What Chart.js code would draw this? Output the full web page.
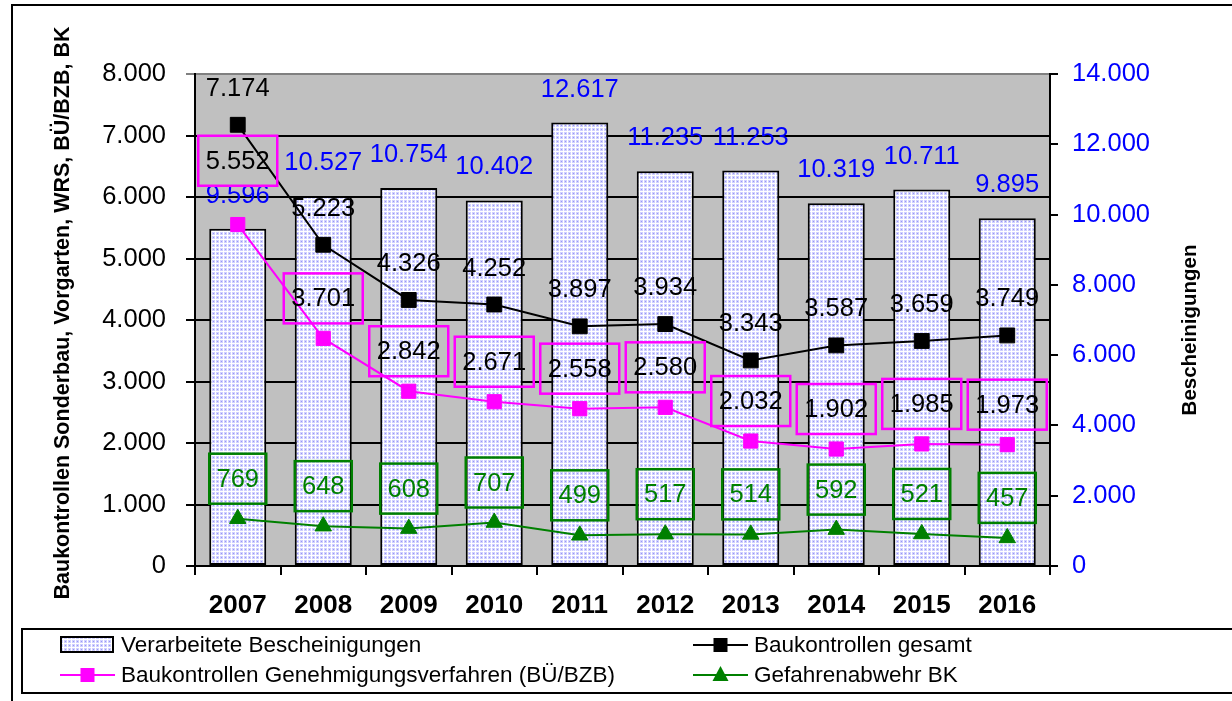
<!DOCTYPE html>
<html>
<head>
<meta charset="utf-8">
<title>Baukontrollen und Bescheinigungen 2007-2016</title>
<script src="https://cdn.jsdelivr.net/npm/chart.js@4/dist/chart.umd.min.js"></script>
<style>
  html, body { margin: 0; padding: 0; background: #fff; }
  canvas { display: block; }
</style>
</head>
<body>
<canvas id="chart" width="1232" height="701"></canvas>
<script>
// Daten
const years = ['2007', '2008', '2009', '2010', '2011', '2012', '2013', '2014', '2015', '2016'];
const bescheinigungen = [9596, 10527, 10754, 10402, 12617, 11235, 11253, 10319, 10711, 9895];
const kontrollenGesamt = [7174, 5223, 4326, 4252, 3897, 3934, 3343, 3587, 3659, 3749];
const kontrollenGenehmigung = [5552, 3701, 2842, 2671, 2558, 2580, 2032, 1902, 1985, 1973];
const gefahrenabwehr = [769, 648, 608, 707, 499, 517, 514, 592, 521, 457];
const leftTicks = [0, 1000, 2000, 3000, 4000, 5000, 6000, 7000, 8000];
const rightTicks = [0, 2000, 4000, 6000, 8000, 10000, 12000, 14000];

// Farben
const BLUE = '#0000FF', MAGENTA = '#FF00FF', GREEN = '#008000', GRAY = '#C0C0C0';
const FONT = '"Liberation Sans", Arial, sans-serif';

function fmt(v) {
  return String(v).replace(/\B(?=(\d{3})+(?!\d))/g, '.');
}

// Punktraster fuer die Saeulen
function makePattern(ctx) {
  const c = document.createElement('canvas');
  c.width = 4; c.height = 4;
  const g = c.getContext('2d');
  g.fillStyle = '#FFFFFF'; g.fillRect(0, 0, 4, 4);
  g.fillStyle = '#D0D0FF'; g.fillRect(0, 0, 3, 3);
  g.fillStyle = '#9898F2'; g.fillRect(1, 1, 1, 1);
  return ctx.createPattern(c, 'repeat');
}

const canvas = document.getElementById('chart');
const barFill = makePattern(canvas.getContext('2d'));

// grauer Plotbereich + Rahmen
const backgroundPlugin = {
  id: 'plotBackground',
  beforeDraw(chart) {
    const { ctx, chartArea: a } = chart;
    ctx.save();
    ctx.fillStyle = GRAY;
    ctx.fillRect(a.left, a.top, a.right - a.left, a.bottom - a.top);
    ctx.strokeStyle = '#000';
    ctx.lineWidth = 2;
    ctx.beginPath();
    ctx.moveTo(12, 701);
    ctx.lineTo(12, 5);
    ctx.lineTo(1232, 5);
    ctx.stroke();
    ctx.restore();
  }
};

// Datenbeschriftungen
const labelStyles = {
  0: { color: BLUE, dy: -34 },
  1: { color: '#000', dy: -37 },
  2: { color: '#000', dy: -40, box: MAGENTA, boxW: 79 },
  3: { color: GREEN, dy: -40, box: GREEN, boxW: 57 }
};

const dataLabelPlugin = {
  id: 'dataLabels',
  afterDatasetsDraw(chart) {
    const ctx = chart.ctx;
    const barMeta = chart.getDatasetMeta(0).data;
    ctx.save();
    ctx.font = '25.5px ' + FONT;
    ctx.textAlign = 'center';
    ctx.textBaseline = 'middle';
    chart.data.datasets.forEach((ds, i) => {
      const st = labelStyles[i];
      chart.getDatasetMeta(i).data.forEach((el, j) => {
        const x = el.x;
        let y = el.y + st.dy;
        if (st.box) {
          // Kasten nicht ueber die Saeulenbeschriftung legen
          const barLabelY = barMeta[j].y + labelStyles[0].dy;
          if (y + 25 > barLabelY - 9 && y - 25 < barLabelY + 14) y = barLabelY - 9 - 25;
          ctx.strokeStyle = st.box;
          ctx.lineWidth = 2.5;
          ctx.strokeRect(x - st.boxW / 2, y - 25, st.boxW, 50);
        }
        ctx.fillStyle = st.color;
        ctx.fillText(fmt(ds.data[j]), x, y + 1);
      });
    });
    ctx.restore();
  }
};

// Legende und Achsentitel
const legendPlugin = {
  id: 'boxLegend',
  afterDraw(chart) {
    const ctx = chart.ctx;
    ctx.save();
    ctx.strokeStyle = '#000';
    ctx.lineWidth = 2;
    ctx.strokeRect(22, 629, 1240, 64);

    const cols = [60, 693], rows = [645, 675];
    ctx.font = '22.5px ' + FONT;
    ctx.textBaseline = 'middle';
    ctx.textAlign = 'left';
    chart.data.datasets.forEach((ds, i) => {
      const x = cols[i % 2], y = rows[Math.floor(i / 2)];
      if (ds.type === 'line') {
        ctx.strokeStyle = ds.borderColor;
        ctx.lineWidth = 2;
        ctx.beginPath();
        ctx.moveTo(x, y); ctx.lineTo(x + 55, y);
        ctx.stroke();
        ctx.fillStyle = ds.backgroundColor;
        const cx = x + 27.5;
        if (ds.pointStyle === 'triangle') {
          ctx.beginPath();
          ctx.moveTo(cx, y - 9); ctx.lineTo(cx + 8, y + 6); ctx.lineTo(cx - 8, y + 6);
          ctx.closePath(); ctx.fill();
        } else {
          ctx.fillRect(cx - 7, y - 7, 14, 14);
        }
      } else {
        ctx.fillStyle = barFill;
        ctx.fillRect(x + 1, y - 8, 52, 15);
        ctx.strokeStyle = '#000';
        ctx.lineWidth = 2;
        ctx.strokeRect(x + 1, y - 8, 52, 15);
      }
      ctx.fillStyle = '#000';
      ctx.fillText(ds.label, x + 61, y + 1);
    });

    // Achsentitel (von unten nach oben)
    ctx.font = 'bold 21.5px ' + FONT;
    ctx.textAlign = 'center';
    ctx.save();
    ctx.translate(63, 313);
    ctx.rotate(-Math.PI / 2);
    ctx.fillText('Baukontrollen Sonderbau, Vorgarten, WRS, BÜ/BZB, BK', 0, 0);
    ctx.restore();
    ctx.translate(1190, 330);
    ctx.rotate(-Math.PI / 2);
    ctx.font = 'bold 20.5px ' + FONT;
    ctx.fillText('Bescheinigungen', 0, 0);
    ctx.restore();
  }
};

new Chart(canvas, {
  type: 'bar',
  data: {
    labels: years,
    datasets: [
      {
        type: 'bar',
        label: 'Verarbeitete Bescheinigungen',
        data: bescheinigungen,
        yAxisID: 'y1',
        backgroundColor: barFill,
        borderColor: '#000',
        borderWidth: 2,
        borderSkipped: false,
        categoryPercentage: 1,
        barPercentage: 0.667,
        order: 2
      },
      {
        type: 'line',
        label: 'Baukontrollen gesamt',
        data: kontrollenGesamt,
        yAxisID: 'y',
        borderColor: '#000',
        backgroundColor: '#000',
        borderWidth: 2,
        pointStyle: 'rect',
        pointRadius: 10.5,
        pointBorderWidth: 1,
        tension: 0,
        order: 1
      },
      {
        type: 'line',
        label: 'Baukontrollen Genehmigungsverfahren (BÜ/BZB)',
        data: kontrollenGenehmigung,
        yAxisID: 'y',
        borderColor: MAGENTA,
        backgroundColor: MAGENTA,
        borderWidth: 2,
        pointStyle: 'rect',
        pointRadius: 10,
        pointBorderWidth: 1,
        tension: 0,
        order: 1
      },
      {
        type: 'line',
        label: 'Gefahrenabwehr BK',
        data: gefahrenabwehr,
        yAxisID: 'y',
        borderColor: GREEN,
        backgroundColor: GREEN,
        borderWidth: 2,
        pointStyle: 'triangle',
        pointRadius: 9.5,
        pointBorderWidth: 1,
        tension: 0,
        order: 1
      }
    ]
  },
  options: {
    responsive: false,
    animation: false,
    devicePixelRatio: 1,
    layout: { padding: { top: 74, left: 0, right: 0, bottom: 0 } },
    plugins: {
      legend: { display: false },
      tooltip: { enabled: false }
    },
    scales: {
      x: {
        grid: { offset: true, drawOnChartArea: false, color: '#000', lineWidth: 2, tickLength: 9 },
        border: { color: '#000', width: 2 },
        ticks: { color: '#000', font: { family: FONT, size: 26, weight: 'bold' }, padding: 15 },
        afterFit(scale) { scale.height = 135; }
      },
      y: {
        position: 'left',
        min: 0,
        max: 8000,
        afterBuildTicks(scale) { scale.ticks = leftTicks.map(v => ({ value: v })); },
        grid: {
          color: ctx => (ctx.tick && ctx.tick.value === 8000 ? '#808080' : '#000'),
          lineWidth: 2,
          tickLength: 9
        },
        border: { color: '#000', width: 2 },
        ticks: {
          color: '#000',
          font: { family: FONT, size: 25.5 },
          padding: 20,
          callback: v => fmt(v)
        },
        afterFit(scale) { scale.width = 195; }
      },
      y1: {
        position: 'right',
        min: 0,
        max: 14000,
        afterBuildTicks(scale) { scale.ticks = rightTicks.map(v => ({ value: v })); },
        grid: { drawOnChartArea: false, color: '#000', lineWidth: 2, tickLength: 8 },
        border: { color: '#000', width: 2 },
        ticks: {
          color: BLUE,
          font: { family: FONT, size: 25.5 },
          padding: 14,
          callback: v => fmt(v)
        },
        afterFit(scale) { scale.width = 182; }
      }
    }
  },
  plugins: [backgroundPlugin, dataLabelPlugin, legendPlugin]
});
</script>
</body>
</html>
